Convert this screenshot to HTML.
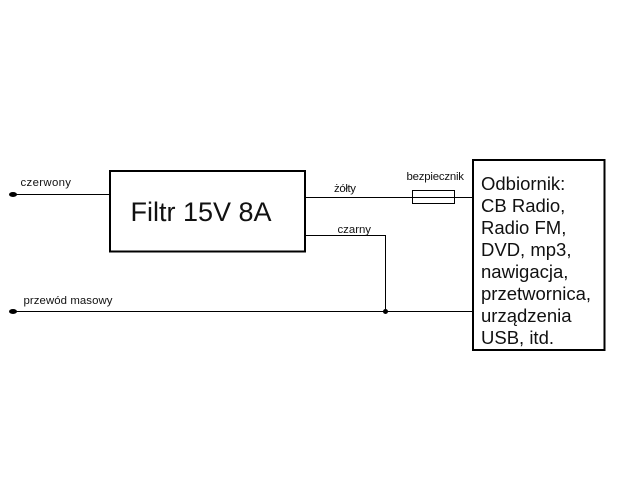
<!DOCTYPE html>
<html lang="pl">
<head>
<meta charset="utf-8">
<title>Filtr 15V 8A</title>
<style>
html,body{margin:0;padding:0;background:#fff}
svg{display:block}
text{font-family:"Liberation Sans",Arial,sans-serif;fill:#111}
.s{font-size:11.4px}
.m{font-size:18.5px}
</style>
</head>
<body>
<svg width="640" height="480" viewBox="0 0 640 480" xmlns="http://www.w3.org/2000/svg">
<rect width="640" height="480" fill="#fff"/>
<g stroke="#000" fill="none">
<rect x="110" y="171" width="195" height="80.5" stroke-width="2"/>
<rect x="473" y="160" width="131.5" height="190" stroke-width="2"/>
<path d="M12 194.5H109M305 197.5H472M305 235.5H385.5V311.5M12 311.5H472" stroke-width="1"/>
<rect x="412.5" y="190.5" width="42" height="13" stroke-width="1"/>
</g>
<g fill="#000">
<ellipse cx="13" cy="194.5" rx="4" ry="2.5"/>
<ellipse cx="13" cy="311.5" rx="4" ry="2.5"/>
<circle cx="385.5" cy="311.5" r="2.5"/>
</g>
<text class="s" x="20.5" y="186" textLength="50.5" lengthAdjust="spacing">czerwony</text>
<text class="s" x="23.5" y="304" textLength="89" lengthAdjust="spacing">przewód masowy</text>
<text class="s" x="334" y="192" textLength="22" lengthAdjust="spacing">żółty</text>
<text class="s" x="337.5" y="233" textLength="33.5" lengthAdjust="spacing">czarny</text>
<text class="s" x="406.5" y="180" textLength="57.5" lengthAdjust="spacing">bezpiecznik</text>
<text x="130.5" y="221" style="font-size:27px">Filtr 15V 8A</text>
<text class="m" x="481" y="190">Odbiornik:</text>
<text class="m" x="481" y="212">CB Radio,</text>
<text class="m" x="481" y="234">Radio FM,</text>
<text class="m" x="481" y="256">DVD, mp3,</text>
<text class="m" x="481" y="278">nawigacja,</text>
<text class="m" x="481" y="300">przetwornica,</text>
<text class="m" x="481" y="322">urządzenia</text>
<text class="m" x="481" y="344">USB, itd.</text>
</svg>
</body>
</html>
